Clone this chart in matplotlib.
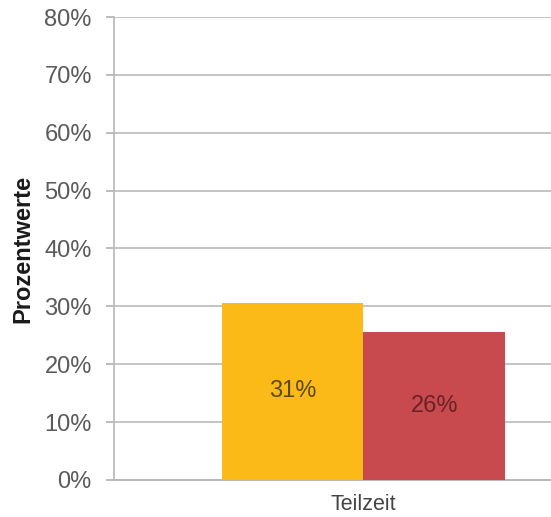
import matplotlib.pyplot as plt

plt.rcParams['font.family'] = ['Liberation Sans', 'DejaVu Sans']

category = 'Teilzeit'
series_values = [30.6, 25.6]
series_colors = ['#FBBA18', '#C84A4E']
label_colors = ['#5e4812', '#6a2226']
y_ticks = [0, 10, 20, 30, 40, 50, 60, 70, 80]

fig = plt.figure(figsize=(5.51, 5.17), dpi=100)
ax = fig.add_axes([0.2069, 0.0716, 0.9056, 0.8955])

bar_width = 0.284
offsets = [-bar_width / 2, bar_width / 2]
for off, val, col, lcol in zip(offsets, series_values, series_colors, label_colors):
    ax.bar(off, val, width=bar_width, color=col, zorder=3)
    ax.text(off, val / 2, f'{val:.0f}%', ha='center', va='center',
            fontsize=17, color=lcol, zorder=4)

ax.set_xlim(-0.5, 0.5)
ax.set_ylim(0, 80)
ax.set_yticks(y_ticks)
ax.set_yticklabels([f'{t}%' for t in y_ticks])
ax.set_xticks([0])
ax.set_xticklabels([category])

ax.yaxis.grid(True, color='#c4c4c4', linewidth=1.4, zorder=0)
ax.tick_params(axis='y', length=6, width=1.2, color='#b0b0b0', pad=10,
               labelsize=17, labelcolor='#5a5a5a')
ax.tick_params(axis='x', length=0, pad=10, labelsize=15.5, labelcolor='#444444')

for side in ['top', 'right']:
    ax.spines[side].set_visible(False)
ax.spines['left'].set_color('#b8b8b8')
ax.spines['left'].set_linewidth(1.2)
ax.spines['bottom'].set_color('#b8b8b8')
ax.spines['bottom'].set_linewidth(1.4)

ax.set_ylabel('Prozentwerte', fontsize=17, fontweight='bold', color='#1a1a1a',
              labelpad=7)

fig.savefig('out.png', dpi=100)
